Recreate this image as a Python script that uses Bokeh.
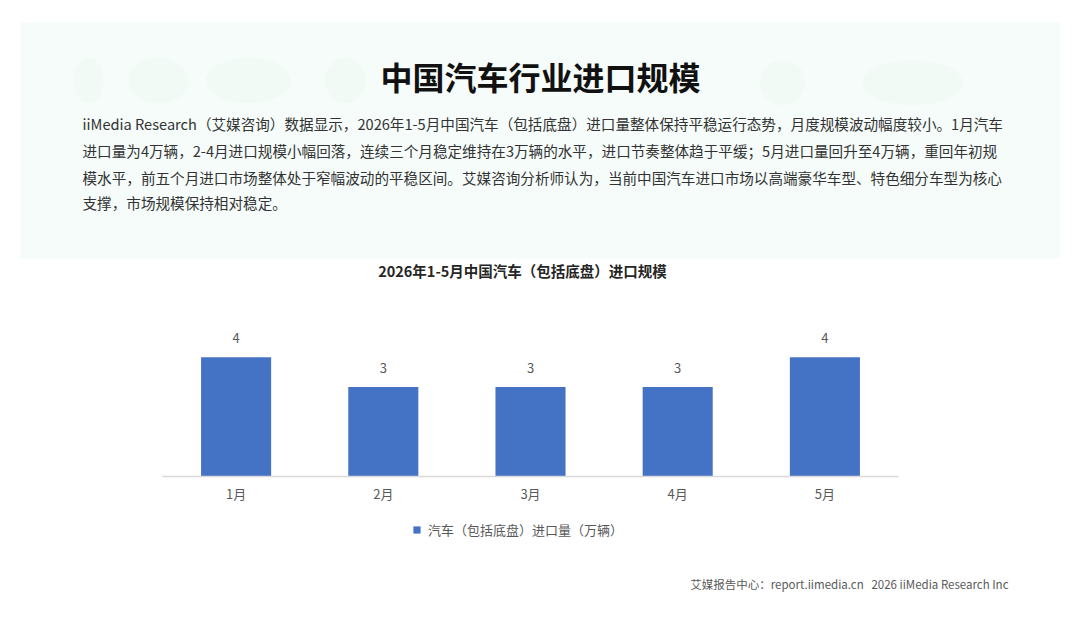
from bokeh.plotting import figure
from bokeh.models import (Range1d, FactorRange, Legend, LegendItem, ColumnDataSource,
                          LinearScale)
from bokeh.core.properties import value
from bokeh.embed import file_html
from bokeh.resources import INLINE

# ---------------- data ----------------
months = ["1月", "2月", "3月", "4月", "5月"]
imports = [4, 3, 3, 3, 4]
series_name = "汽车（包括底盘）进口量（万辆）"
main_title = "中国汽车行业进口规模"
chart_title = "2026年1-5月中国汽车（包括底盘）进口规模"
paragraph_lines = [
    "iiMedia Research（艾媒咨询）数据显示，2026年1-5月中国汽车（包括底盘）进口量整体保持平稳运行态势，月度规模波动幅度较小。1月汽车",
    "进口量为4万辆，2-4月进口规模小幅回落，连续三个月稳定维持在3万辆的水平，进口节奏整体趋于平缓；5月进口量回升至4万辆，重回年初规",
    "模水平，前五个月进口市场整体处于窄幅波动的平稳区间。艾媒咨询分析师认为，当前中国汽车进口市场以高端豪华车型、特色细分车型为核心",
    "支撑，市场规模保持相对稳定。",
]
footer_text = "艾媒报告中心：report.iimedia.cn\u00a0\u00a0\u00a02026 iiMedia Research Inc"

FONT = "Noto Sans CJK SC"

# ---------------- layout constants (pixels) ----------------
W, H = 1080, 620          # canvas
FRAME_W = 1060            # frame spans x 0..1060 (symmetric around chart centre)
CH_LEFT, CH_RIGHT = 162, 898   # plotting area of the bar chart
CH_BASE, CH_TOP = 476, 327     # baseline and top of the value axis (0..5)
V_MAX = 5
px_per_unit = (CH_BASE - CH_TOP) / V_MAX
px_per_cat = (CH_RIGHT - CH_LEFT) / len(months)
pad_pct = 2 * CH_LEFT / (CH_RIGHT - CH_LEFT)   # factor-range padding (percent of span, split per side)

def cx(px):
    """page pixel x -> synthetic categorical coordinate"""
    return (px - CH_LEFT) / px_per_cat

def cw(pw):
    return pw / px_per_cat

p = figure(width=W, height=H,
           x_range=FactorRange(factors=months, range_padding=pad_pct,
                               range_padding_units="percent"),
           y_range=Range1d(-(H - CH_BASE) / px_per_unit, CH_BASE / px_per_unit),
           output_backend="svg", toolbar_location=None, title=None)
p.min_border = 0
p.min_border_right = W - FRAME_W
p.outline_line_color = None
p.xgrid.visible = False
p.ygrid.visible = False
p.yaxis.visible = False
p.background_fill_color = "white"
p.border_fill_color = "white"

# pixel-space vertical range for page decoration and texts
p.extra_y_ranges = {"px": Range1d(H, 0)}
p.extra_y_scales = {"px": LinearScale()}

# header background panel + faint decorative blobs
p.quad(left=[cx(20)], right=[cx(1060)], top=[22], bottom=[258],
       y_range_name="px", fill_color="#f5fcfa", line_color=None)
blob_x = [88, 158, 248, 345, 782, 912]
blob_w = [30, 60, 85, 40, 45, 100]
p.ellipse(x=[cx(v) for v in blob_x], y=[80, 80, 80, 80, 82, 82],
          width=[cw(v) for v in blob_w], height=[45] * 6,
          y_range_name="px", fill_color="#e8f6ea", fill_alpha=0.3, line_color=None)

p.text(x=[cx(540)], y=[75], text=[main_title], y_range_name="px",
       text_font=value(FONT), text_font_size="32px", text_font_style="bold",
       text_color="#111111", text_align="center", text_baseline="middle")
p.text(x=[cx(82)] * len(paragraph_lines), y=[123, 150, 177, 202], text=paragraph_lines,
       y_range_name="px", text_font=value(FONT),
       text_font_size="14.6px", text_color="#333333", text_align="left",
       text_baseline="middle")
p.text(x=[cx(522)], y=[270], text=[chart_title], y_range_name="px",
       text_font=value(FONT), text_font_size="14.5px", text_font_style="bold",
       text_color="#262626", text_align="center", text_baseline="middle")
p.text(x=[cx(1008)], y=[583], text=[footer_text], y_range_name="px",
       text_font=value(FONT), text_font_size="11.5px", text_color="#595959",
       text_align="right", text_baseline="middle")

# ---------------- bars ----------------
src = ColumnDataSource(dict(month=months, val=imports, lab=[str(v) for v in imports]))
bars = p.vbar(x="month", top="val", bottom=0, width=0.476, source=src,
              fill_color="#4472C4", line_color=None)
p.text(x="month", y="val", text="lab", source=src, text_font=value(FONT),
       text_font_size="13px", text_color="#595959", text_align="center",
       text_baseline="middle", y_offset=-19)

ax = p.xaxis[0]
ax.fixed_location = 0
ax.bounds = (0, len(months))
ax.axis_line_color = "#d9d9d9"
ax.axis_line_width = 1.5
ax.major_tick_line_color = None
ax.minor_tick_line_color = None
ax.major_label_text_font = FONT
ax.major_label_text_font_size = "13px"
ax.major_label_text_color = "#595959"
ax.major_label_standoff = 1

legend = Legend(items=[LegendItem(label=series_name, renderers=[bars])],
                orientation="horizontal", location=(412, H - 539),
                label_text_font=FONT, label_text_font_size="13px",
                label_text_color="#595959", glyph_width=9, glyph_height=9,
                label_height=20, label_standoff=7, border_line_color=None,
                background_fill_alpha=0, padding=0, margin=0)
p.add_layout(legend, "center")

open("out.html", "w").write(file_html(p, INLINE))
